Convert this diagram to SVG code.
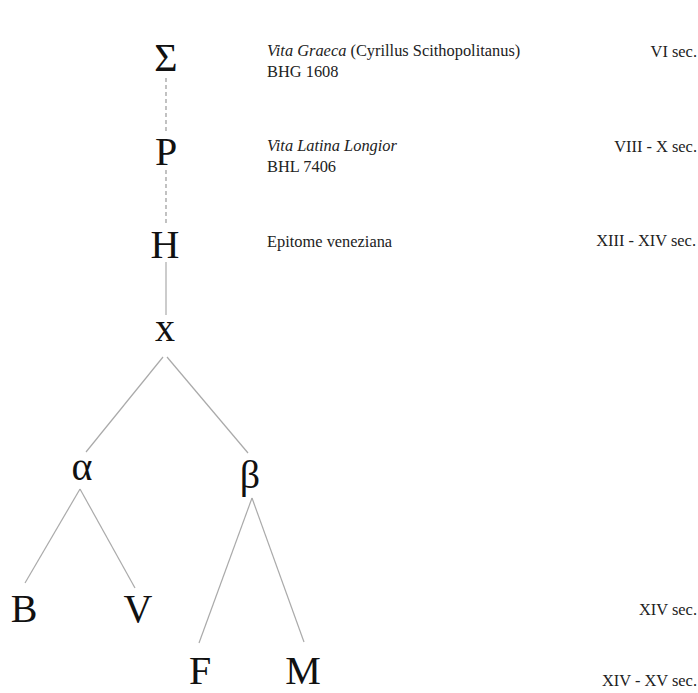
<svg xmlns="http://www.w3.org/2000/svg" width="698" height="693" viewBox="0 0 698 693">
<style>
.node{font-family:"Liberation Serif","Times New Roman",serif;font-size:40px;fill:#111;text-anchor:middle}
.lbl{font-family:"Liberation Serif","Times New Roman",serif;font-size:16.4px;fill:#222}
.date{font-family:"Liberation Serif","Times New Roman",serif;font-size:16.4px;fill:#222;text-anchor:end}
.edge{stroke:#aaa;stroke-width:1.2;fill:none}
.dash{stroke:#999;stroke-width:1.2;fill:none;stroke-dasharray:4 3}
</style>
<rect width="698" height="693" fill="#fff"/>
<g id="connectors">
<line class="dash" x1="166" y1="78" x2="166" y2="134"/>
<line class="dash" x1="166" y1="170" x2="166" y2="226"/>
<line class="edge" x1="166" y1="262" x2="166" y2="315"/>
<line class="edge" x1="163" y1="357" x2="86" y2="452"/>
<line class="edge" x1="167" y1="357" x2="248" y2="453"/>
<line class="edge" x1="80" y1="489" x2="25" y2="583"/>
<line class="edge" x1="80" y1="489" x2="135" y2="588"/>
<line class="edge" x1="252" y1="498" x2="199" y2="643"/>
<line class="edge" x1="252" y1="498" x2="304" y2="642"/>
</g>
<g id="node-sigma"><text class="node" x="166" y="71">Σ</text></g>
<g id="node-P"><text class="node" x="166" y="165">P</text></g>
<g id="node-H"><text class="node" x="165" y="258">H</text></g>
<g id="node-x"><text class="node" x="165" y="341">x</text></g>
<g id="node-alpha"><text class="node" x="82" y="480">α</text></g>
<g id="node-beta"><text class="node" x="250" y="488">β</text></g>
<g id="node-B"><text class="node" x="24" y="622">B</text></g>
<g id="node-V"><text class="node" x="138" y="622">V</text></g>
<g id="node-F"><text class="node" x="200" y="684">F</text></g>
<g id="node-M"><text class="node" x="303" y="684">M</text></g>
<g id="labels">
<text class="lbl" x="267" y="56"><tspan font-style="italic">Vita Graeca</tspan> (Cyrillus Scithopolitanus)</text>
<text class="lbl" x="267" y="77">BHG 1608</text>
<text class="lbl" x="267" y="151" font-style="italic">Vita Latina Longior</text>
<text class="lbl" x="267" y="172">BHL 7406</text>
<text class="lbl" x="267" y="247">Epitome veneziana</text>
</g>
<g id="dates">
<text class="date" x="697" y="57">VI sec.</text>
<text class="date" x="697" y="152">VIII - X sec.</text>
<text class="date" x="696" y="246">XIII - XIV sec.</text>
<text class="date" x="697" y="615">XIV sec.</text>
<text class="date" x="697" y="686">XIV - XV sec.</text>
</g>
</svg>
